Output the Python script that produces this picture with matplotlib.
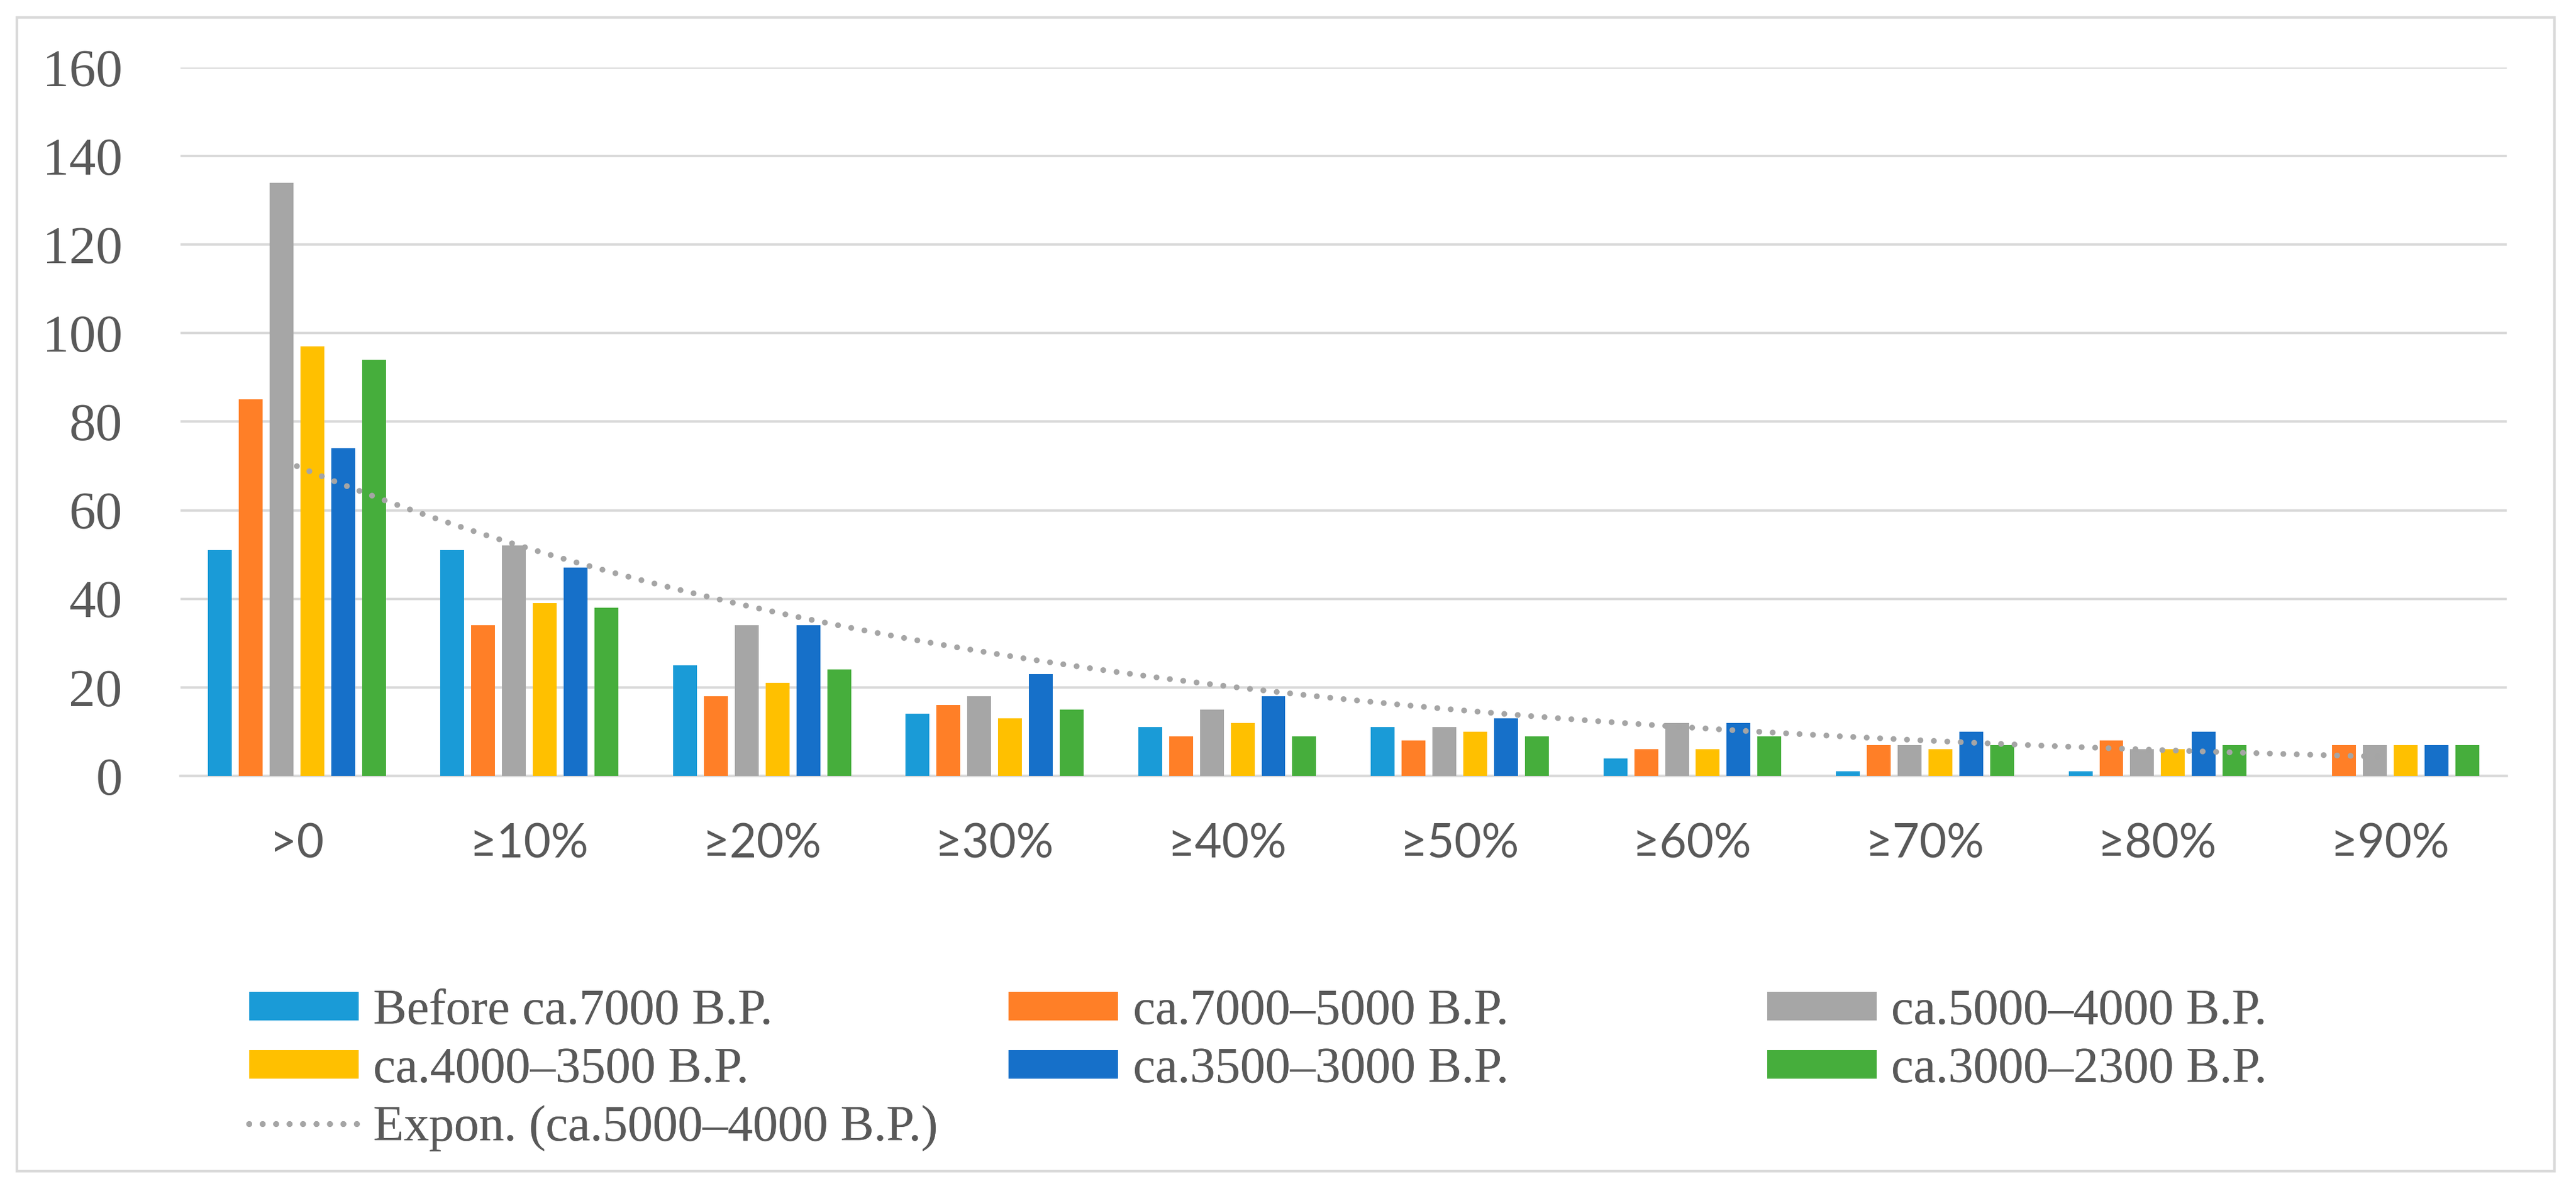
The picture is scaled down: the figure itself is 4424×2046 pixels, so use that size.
import numpy as np
import matplotlib
matplotlib.use('Agg')
import matplotlib.pyplot as plt
from matplotlib.patches import Rectangle

# Data
categories = ['>0', '≥10%', '≥20%', '≥30%', '≥40%', '≥50%', '≥60%', '≥70%', '≥80%', '≥90%']
series_names = ['Before ca.7000 B.P.', 'ca.7000–5000 B.P.', 'ca.5000–4000 B.P.',
                'ca.4000–3500 B.P.', 'ca.3500–3000 B.P.', 'ca.3000–2300 B.P.']
before_7000 = [51, 51, 25, 14, 11, 11, 4, 1, 1, 0]
ca_7000_5000 = [85, 34, 18, 16, 9, 8, 6, 7, 8, 7]
ca_5000_4000 = [134, 52, 34, 18, 15, 11, 12, 7, 6, 7]
ca_4000_3500 = [97, 39, 21, 13, 12, 10, 6, 6, 6, 7]
ca_3500_3000 = [74, 47, 34, 23, 18, 13, 12, 10, 10, 7]
ca_3000_2300 = [94, 38, 24, 15, 9, 9, 9, 7, 7, 7]
colors = ['#1A9BD7', '#FF7F27', '#A6A6A6', '#FFC000', '#1670C9', '#46AE3C']
trend_label = 'Expon. (ca.5000–4000 B.P.)'

all_series = [before_7000, ca_7000_5000, ca_5000_4000, ca_4000_3500, ca_3500_3000, ca_3000_2300]

# Fonts
serif = ['Liberation Serif', 'DejaVu Serif']
sans = ['Lato', 'DejaVu Sans']
text_col = '#595959'
grid_col = '#D9D9D9'

fig = plt.figure(figsize=(22.12, 10.23), dpi=200)
ax = fig.add_axes([0.0701, 0.3485, 0.973 - 0.0701, 0.9433 - 0.3485])

x = np.arange(len(categories))
pitch = 0.1325
bw = 0.1025
bars = []
for i, vals in enumerate(all_series):
    b = ax.bar(x + (i - 2.5) * pitch, vals, width=bw, color=colors[i],
               label=series_names[i], zorder=3)
    bars.append(b)

# Exponential trendline fitted to ca.5000-4000 series (Excel style)
xx = np.arange(1, len(categories) + 1)
coef = np.polyfit(xx, np.log(ca_5000_4000), 1)
xs = np.linspace(1, len(categories), 300)
ys = np.exp(coef[1]) * np.exp(coef[0] * xs)
trend, = ax.plot(xs - 1, ys, color='#A5A5A5', lw=3.6, linestyle=(0, (0.01, 2.3)),
                 dash_capstyle='round', zorder=4, label=trend_label)

ax.set_xlim(-0.5, len(categories) - 0.5)
ax.set_ylim(0, 160)
ax.set_yticks(np.arange(0, 161, 20))
ax.set_xticks(x)
ax.set_xticklabels(categories, family=sans, fontsize=29, color=text_col)
for lab in ax.get_yticklabels():
    lab.set_family(serif)
    lab.set_fontsize(33)
    lab.set_color(text_col)
ax.tick_params(axis='y', length=0, pad=36)
ax.tick_params(axis='x', length=0, pad=29)
ax.grid(axis='y', color=grid_col, lw=1.5, zorder=0)
ax.set_axisbelow(True)
for s in ['top', 'right', 'left']:
    ax.spines[s].set_visible(False)
ax.spines['bottom'].set_color(grid_col)
ax.spines['bottom'].set_linewidth(1.6)
ax.spines['bottom'].set_zorder(2)

# Legend, three columns placed like Excel
leg_kw = dict(loc='upper left', frameon=False, borderpad=0, borderaxespad=0,
              handlelength=2.18, handleheight=0.5, handletextpad=0.3,
              labelspacing=0.24, prop={'family': serif, 'size': 31},
              labelcolor=text_col)
cols = [([bars[0], bars[3], trend], [series_names[0], series_names[3], trend_label], 0.0967),
        ([bars[1], bars[4]], [series_names[1], series_names[4]], 0.3915),
        ([bars[2], bars[5]], [series_names[2], series_names[5]], 0.686)]
for handles, labels, xpos in cols:
    leg = fig.legend(handles, labels, bbox_to_anchor=(xpos, 0.170), **leg_kw)
    fig.add_artist(leg)

# Outer chart border
fig.add_artist(Rectangle((0.00656, 0.0166), 0.985, 0.9687, transform=fig.transFigure,
                         fill=False, edgecolor=grid_col, lw=1.6))

fig.savefig('out.png', dpi=200, facecolor='white')
